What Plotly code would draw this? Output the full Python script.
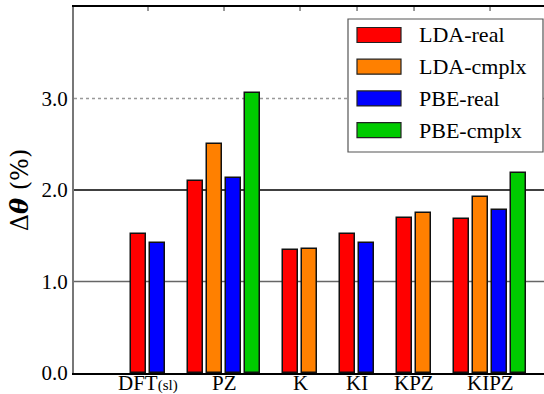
import plotly.graph_objects as go

categories = ["DFT<span style='font-size:15px'>(sl)</span>", "PZ", "K", "KI", "KPZ", "KIPZ"]
series_names = ["LDA-real", "LDA-cmplx", "PBE-real", "PBE-cmplx"]
series_colors = ["#ff0000", "#ff8000", "#0000ff", "#00cc00"]
lda_real = [1.52, 2.10, 1.34, 1.52, 1.69, 1.68]
lda_cmplx = [None, 2.50, 1.35, None, 1.75, 1.92]
pbe_real = [1.42, 2.13, None, 1.42, None, 1.78]
pbe_cmplx = [None, 3.06, None, None, None, 2.19]
series_values = [lda_real, lda_cmplx, pbe_real, pbe_cmplx]
y_ticks = [0.0, 1.0, 2.0, 3.0]
ref_lines = [1.0, 2.0, 3.0]

# slot positions: bars within a group are consecutive, one empty slot between groups
positions = [[None] * len(categories) for _ in series_values]
centers = []
slot = 0
for gi in range(len(categories)):
    slots = []
    for si, vals in enumerate(series_values):
        if vals[gi] is not None:
            positions[si][gi] = slot
            slots.append(slot)
            slot += 1
    centers.append(sum(slots) / len(slots))
    slot += 1

SERIF = "Liberation Serif"
fig = go.Figure()
for si, vals in enumerate(series_values):
    xs = [p for p, v in zip(positions[si], vals) if v is not None]
    ys = [v for v in vals if v is not None]
    fig.add_trace(go.Bar(x=xs, y=ys, width=0.79, name=series_names[si],
                         marker=dict(color=series_colors[si], line=dict(color="#111", width=1.5)),
                         showlegend=False))

line_styles = [dict(color="#666", width=1.5), dict(color="#000", width=1.5),
               dict(color="#999", width=1.5, dash="dot")]
for yv, st in zip(ref_lines, line_styles):
    fig.add_shape(type="line", xref="paper", yref="y", x0=0, x1=1, y0=yv, y1=yv,
                  line=st, layer="below")

# manual legend (paper coordinates)
W, H, L, B = 470.0, 366.0, 74.0, 373.0
def px(x): return (x - L) / W
def py(y): return (B - y) / H
fig.add_shape(type="rect", xref="paper", yref="paper", x0=px(348), x1=px(543), y0=py(152), y1=py(19),
              line=dict(color="#555", width=1.2), fillcolor="white", layer="above")
for i, name in enumerate(series_names):
    cy = 35 + i * 31.7
    fig.add_shape(type="rect", xref="paper", yref="paper", x0=px(357), x1=px(401),
                  y0=py(cy + 7.5), y1=py(cy - 7.5),
                  line=dict(color="#222", width=1.2), fillcolor=series_colors[i], layer="above")
    fig.add_annotation(xref="paper", yref="paper", x=px(417), y=py(cy), text=name,
                       showarrow=False, xanchor="left", yanchor="middle",
                       font=dict(family=SERIF, size=22, color="black"))

# top mirror ticks
for c in centers:
    fig.add_shape(type="line", xref="x", yref="paper", x0=c, x1=c, y0=1, y1=1 - 4 / H,
                  line=dict(color="#555", width=1.2))

# x category labels
for c, lab in zip(centers, categories):
    fig.add_annotation(xref="x", yref="paper", x=c, y=0, yanchor="top", yshift=4,
                       text=lab, showarrow=False, font=dict(family=SERIF, size=21, color="black"))

fig.update_layout(
    width=544, height=394, margin=dict(l=74, r=0, t=7, b=21),
    plot_bgcolor="white", paper_bgcolor="white", bargap=0,
    font=dict(family=SERIF, color="black"),
    xaxis=dict(range=[-3.395, 21.34], showticklabels=False,
               showline=True, linecolor="black", linewidth=1.5, mirror=True,
               ticks="", showgrid=False, zeroline=False, automargin=False),
    yaxis=dict(range=[0, 4], tickmode="array", tickvals=y_ticks,
               ticktext=[f"{v:.1f}" for v in y_ticks],
               showline=True, linecolor="#777", linewidth=2, ticks="", showgrid=False,
               zeroline=False, automargin=False, tickfont=dict(family=SERIF, size=21),
               title=dict(text="Δ<b><i>θ</i></b> (%)", font=dict(family="DejaVu Serif", size=24), standoff=6)),
)
fig.write_html("out.html")
